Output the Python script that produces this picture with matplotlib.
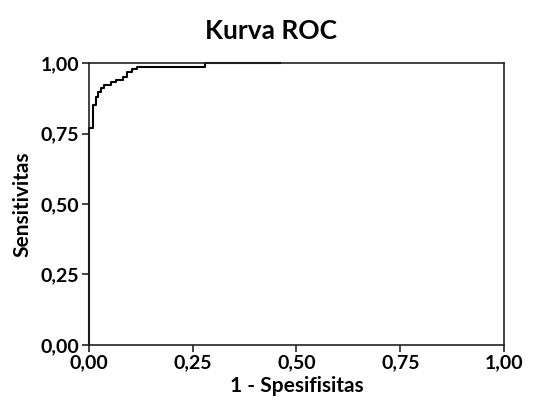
import matplotlib
matplotlib.use("Agg")
import matplotlib.pyplot as plt

# ROC curve vertices (1 - specificity, sensitivity)
fpr = [0, 0, 0.011, 0.017, 0.021, 0.029, 0.037, 0.053, 0.065, 0.081, 0.093, 0.105, 0.117, 0.28, 0.46]
tpr = [0, 0.77, 0.85, 0.88, 0.898, 0.91, 0.922, 0.934, 0.94, 0.951, 0.969, 0.98, 0.987, 1.0, 1.0]

ticks = [0, 0.25, 0.5, 0.75, 1.0]
tick_labels = ["0,00", "0,25", "0,50", "0,75", "1,00"]

plt.rcParams['font.family'] = ['Lato', 'DejaVu Sans']

fig = plt.figure(figsize=(5.42, 4.15), dpi=100)
ax = fig.add_axes([0.164, 0.169, 0.766, 0.679])

ax.plot(fpr, tpr, drawstyle='steps-post', color='black', lw=1.5, clip_on=False)

ax.set_xlim(0, 1)
ax.set_ylim(0, 1)
ax.set_xticks(ticks)
ax.set_xticklabels(tick_labels)
ax.set_yticks(ticks)
ax.set_yticklabels(tick_labels)
for s in ax.spines.values():
    s.set_linewidth(1.2)
    s.set_color('#222222')
ax.tick_params(direction='out', length=5, width=1.2, color='#222222', labelsize=14, pad=2)
for lab in ax.get_xticklabels() + ax.get_yticklabels():
    lab.set_fontweight('bold')

ax.set_xlabel("1 - Spesifisitas", fontsize=15, fontweight='bold', labelpad=3)
ax.set_ylabel("Sensitivitas", fontsize=15, fontweight='bold', labelpad=6)
fig.text(0.5, 0.925, "Kurva ROC", ha='center', va='center', fontsize=19, fontweight='bold')

fig.savefig("out.png", dpi=100)
